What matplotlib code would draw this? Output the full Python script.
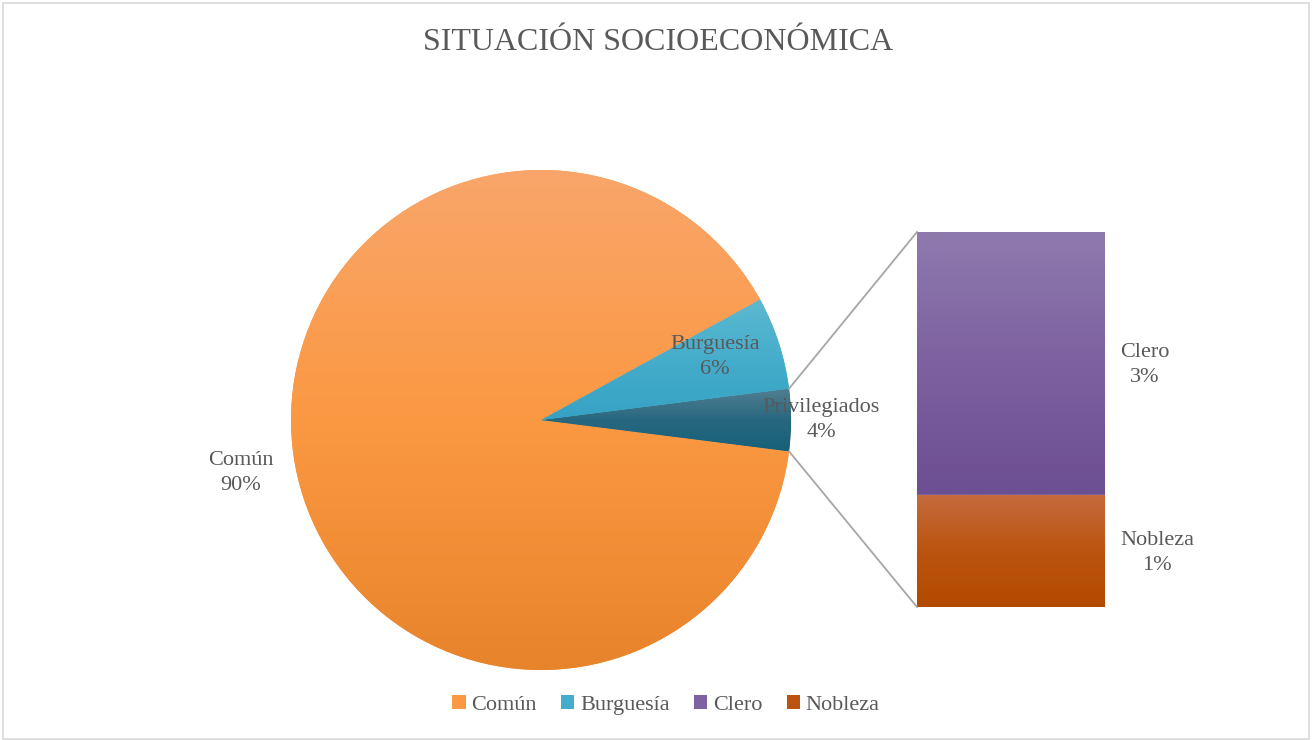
import numpy as np
import matplotlib.pyplot as plt
from matplotlib.colors import LinearSegmentedColormap
from matplotlib.patches import Rectangle

# data
labels = ['Común', 'Burguesía', 'Clero', 'Nobleza']
comun = 90.0
burguesia = 6.0
clero = 2.8
nobleza = 1.2
privilegiados = clero + nobleza

# colours (top, middle, bottom of gradient)
c_comun = ('#F9A66B', '#FB9842', '#E7842B')
c_burg = ('#5DB9D1', '#45ADCB', '#36A2C4')
c_priv = ('#527F92', '#28687F', '#17607A')
c_clero = ('#8F7AAE', '#7D61A0', '#6C4E92')
c_nob = ('#C56B3E', '#BB5410', '#B24A00')
txt = '#595959'
serif = ['Liberation Serif', 'DejaVu Serif']

plt.rcParams['font.family'] = serif

W, H = 1312, 740
fig = plt.figure(figsize=(W / 100, H / 100), dpi=100)
ax = fig.add_axes([0, 0, 1, 1])
ax.axis('off')


def grad_fill(patch, cols):
    ext = patch.get_path().transformed(patch.get_patch_transform()).get_extents()
    cmap = LinearSegmentedColormap.from_list('g', list(cols))
    img = ax.imshow(np.linspace(0, 1, 256).reshape(-1, 1), cmap=cmap,
                    extent=(ext.x0, ext.x1, ext.y0, ext.y1), origin='upper',
                    aspect='auto', zorder=patch.get_zorder() + 0.1)
    img.set_clip_path(patch)


# pie (center / radius in pixel coords, y up)
cx, cy, R = 541, H - 420, 250
vals = [comun, privilegiados, burguesia]
tot = sum(vals)
start = 360 * burguesia / tot + 180 * privilegiados / tot
wedges, _ = ax.pie(vals, center=(cx, cy), radius=R, startangle=start,
                   counterclock=True, frame=True)
for w, c in zip(wedges, [c_comun, c_priv, c_burg]):
    w.set_facecolor(c[1])
    grad_fill(w, c)

# pie labels
pie_txt = ['Común\n90%', 'Privilegiados\n4%', 'Burguesía\n6%']
label_pos = [(1.22, 190.0), (1.12, 0.0), (0.74, 20.0)]
for t, (d, a) in zip(pie_txt, label_pos):
    ax.text(cx + d * R * np.cos(np.radians(a)), cy + d * R * np.sin(np.radians(a)), t,
            ha='center', va='center', fontsize=16, color=txt, linespacing=1.45, zorder=5)

# bar of privilegiados
bx0, by0, bw, bh = 917, H - 607, 188, 375
scale = bh / privilegiados
bars = ax.bar([bx0 + bw / 2] * 2, [nobleza * scale, clero * scale],
              bottom=[by0, by0 + nobleza * scale], width=bw)
for b, c in zip(bars, [c_nob, c_clero]):
    b.set_facecolor(c[1])
    grad_fill(b, c)

bar_txt = ['Nobleza\n1%', 'Clero\n3%']
for b, t in zip(bars, bar_txt):
    ax.text(bx0 + bw + 15, b.get_y() + b.get_height() / 2 - 2, t, ha='left', va='center',
            multialignment='center', fontsize=16, color=txt, linespacing=1.45)

# connector lines
a1 = np.radians(180 * privilegiados / tot)
ax.plot([cx + R * np.cos(a1), bx0], [cy + R * np.sin(a1), by0 + bh], color='#A6A6A6', lw=1.3)
ax.plot([cx + R * np.cos(a1), bx0], [cy - R * np.sin(a1), by0], color='#A6A6A6', lw=1.3)

ax.set_xlim(0, W)
ax.set_ylim(0, H)
ax.set_aspect('auto')

# title
ax.text(W / 2 + 2, H - 43, 'SITUACIÓN SOCIOECONÓMICA', ha='center', va='center',
        fontsize=23, color=txt)

# legend
handles = [Rectangle((0, 0), 1, 1, facecolor=c[1]) for c in [c_comun, c_burg, c_clero, c_nob]]
fig.legend(handles, labels, loc='center', bbox_to_anchor=(0.5 + 10 / W, 1 - 705 / H), ncol=4,
           frameon=False, fontsize=16, handlelength=0.6, handleheight=0.6,
           handletextpad=0.25, columnspacing=1.1, labelcolor=txt)

# chart border
fig.patches.append(Rectangle((0.002, 0.002), 0.996, 0.994, transform=fig.transFigure,
                             fill=False, edgecolor='#D9D9D9', lw=1.2))

fig.savefig('out.png', dpi=100)
